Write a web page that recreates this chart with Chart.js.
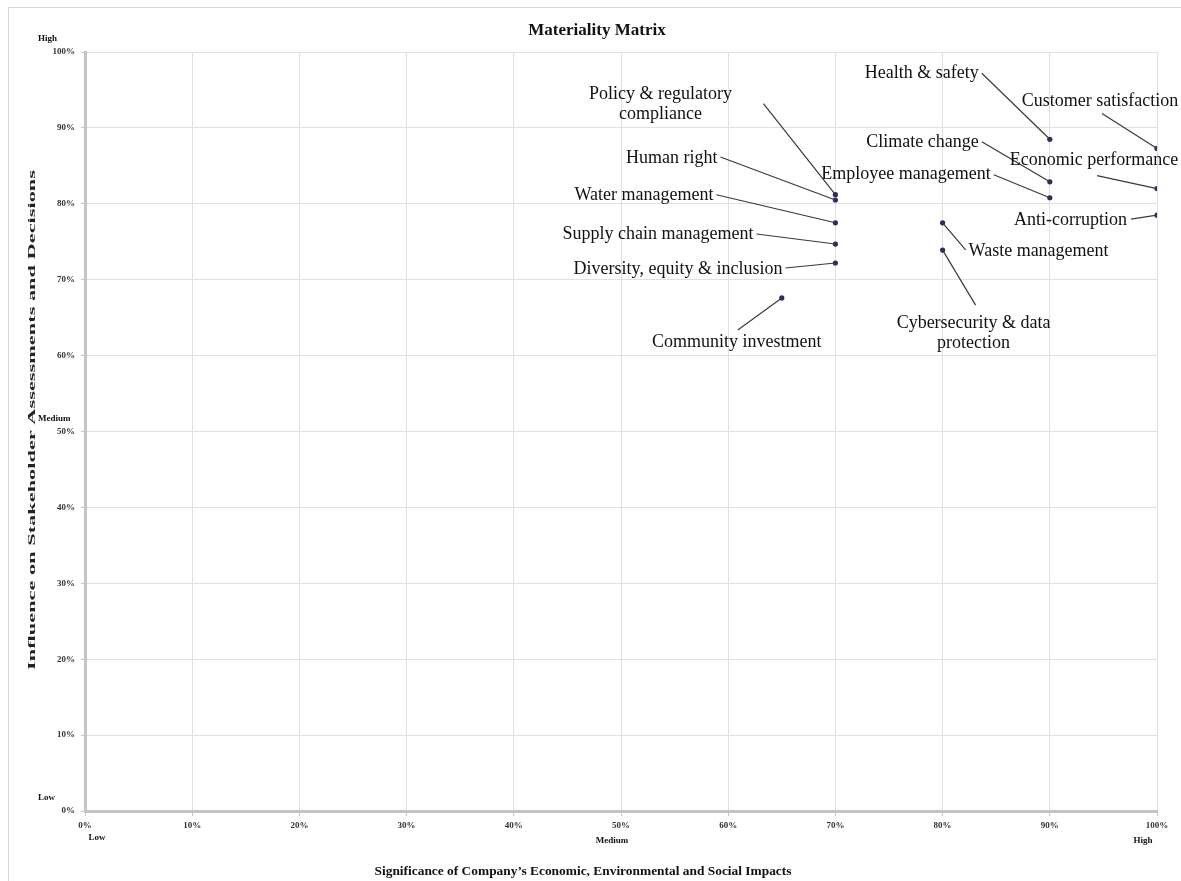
<!DOCTYPE html>
<html>
<head>
<meta charset="utf-8">
<title>Materiality Matrix</title>
<script src="https://cdn.jsdelivr.net/npm/chart.js@4.4.0/dist/chart.umd.min.js"></script>
<style>
    body { margin: 0; background: #ffffff; }
    #wrap { width: 1181px; height: 881px; position: relative; }
</style>
</head>
<body>
<div id="wrap"><canvas id="matrix" width="1181" height="881"></canvas></div>
<script>
// topics and their scores (percent)
const topics = [
    "Health & safety", "Customer satisfaction", "Climate change", "Employee management",
    "Economic performance", "Anti-corruption", "Waste management", "Cybersecurity & data protection",
    "Policy & regulatory compliance", "Human right", "Water management", "Supply chain management",
    "Diversity, equity & inclusion", "Community investment"
];
const significance = [90, 100, 90, 90, 100, 100, 80, 80, 70, 70, 70, 70, 70, 65];
const influence = [88.5, 87.3, 82.9, 80.8, 82.0, 78.5, 77.5, 73.9, 81.2, 80.5, 77.5, 74.7, 72.2, 67.6];

const tickValues = [0, 10, 20, 30, 40, 50, 60, 70, 80, 90, 100];
const levelNames = ["Low", "Medium", "High"];
const levelAt = [0, 50, 100];

// how each label sits next to its point: text offset, alignment, leader start offset (px)
const labelLines = [
    ["Health & safety"], ["Customer satisfaction"], ["Climate change"], ["Employee management"],
    ["Economic performance"], ["Anti-corruption"], ["Waste management"], ["Cybersecurity & data", "protection"],
    ["Policy & regulatory", "compliance"], ["Human right"], ["Water management"], ["Supply chain management"],
    ["Diversity, equity & inclusion"], ["Community investment"]
];
const labelSpots = [
    {tx: -71, ty: -66, align: "right", lx: -68, ly: -66},
    {tx: -57, ty: -47, align: "center", lx: -55, ly: -35},
    {tx: -71, ty: -40, align: "right", lx: -68, ly: -40},
    {tx: -59, ty: -23, align: "right", lx: -56, ly: -23},
    {tx: -63, ty: -28, align: "center", lx: -60, ly: -13},
    {tx: -30, ty: 5, align: "right", lx: -26, ly: 4},
    {tx: 26, ty: 28, align: "left", lx: 23, ly: 27},
    {tx: 31, ty: 73, align: "center", lx: 33, ly: 55},
    {tx: -175, ty: -100, align: "center", lx: -72, ly: -91},
    {tx: -118, ty: -42, align: "right", lx: -115, ly: -43},
    {tx: -122, ty: -28, align: "right", lx: -119, ly: -28},
    {tx: -82, ty: -10, align: "right", lx: -79, ly: -10},
    {tx: -53, ty: 6, align: "right", lx: -50, ly: 5},
    {tx: -45, ty: 44, align: "center", lx: -44, ly: 32}
];

const serif = "'Liberation Serif', 'DejaVu Serif', serif";

// draws text stretched along its own direction to a given length
function fitText(ctx, text, x, y, len, angle) {
    const w = ctx.measureText(text).width;
    ctx.save();
    ctx.translate(x, y);
    ctx.rotate(angle);
    ctx.scale(len / w, 1);
    ctx.fillText(text, 0, 0);
    ctx.restore();
}

const matrixText = {
    id: "matrixText",
    beforeDraw(chart) {
        const ctx = chart.ctx;
        ctx.save();
        ctx.strokeStyle = "#d9d9d9";
        ctx.lineWidth = 1;
        ctx.strokeRect(8.5, 7.5, 1200, 900);
        ctx.restore();
    },
    afterDraw(chart) {
        const ctx = chart.ctx;
        const xs = chart.scales.x;
        const ys = chart.scales.y;
        ctx.save();
        ctx.fillStyle = "#111";
        ctx.textBaseline = "middle";

        ctx.font = "bold 17px " + serif;
        ctx.textAlign = "center";
        ctx.fillText("Materiality Matrix", 597, 31);

        // Low / Medium / High on both axes
        ctx.font = "bold 9px " + serif;
        ctx.textAlign = "left";
        for (let i = 0; i < levelNames.length; i++) {
            ctx.fillText(levelNames[i], 38, ys.getPixelForValue(levelAt[i]) - 13);
        }
        ctx.textAlign = "center";
        ctx.fillText(levelNames[0], xs.getPixelForValue(levelAt[0]) + 12, 838);
        ctx.fillText(levelNames[1], xs.getPixelForValue(levelAt[1]) - 9, 841);
        ctx.fillText(levelNames[2], xs.getPixelForValue(levelAt[2]) - 14, 841);

        // axis titles
        ctx.font = "bold 12px " + serif;
        fitText(ctx, "Significance of Company\u2019s Economic, Environmental and Social Impacts", 583, 872, 417, 0);
        ctx.font = "bold 10px " + serif;
        ctx.fillStyle = "#222";
        fitText(ctx, "Influence on Stakeholder Assessments and Decisions", 32, 420, 500, -Math.PI / 2);
        ctx.fillStyle = "#111";

        // topic labels with leader lines
        const pts = chart.getDatasetMeta(0).data;
        ctx.font = "18px " + serif;
        ctx.strokeStyle = "#3a3a3a";
        ctx.lineWidth = 1.2;
        for (let i = 0; i < pts.length; i++) {
            const p = pts[i];
            const s = labelSpots[i];
            ctx.beginPath();
            ctx.moveTo(p.x + s.lx, p.y + s.ly);
            ctx.lineTo(p.x, p.y);
            ctx.stroke();
            ctx.textAlign = s.align;
            const lines = labelLines[i];
            for (let k = 0; k < lines.length; k++) {
                ctx.fillText(lines[k], p.x + s.tx, p.y + s.ty + k * 20);
            }
        }
        ctx.restore();
    }
};

document.addEventListener("DOMContentLoaded", () => {
    const canvas = document.getElementById("matrix");
    const points = topics.map((t, i) => ({x: significance[i], y: influence[i]}));
    new Chart(canvas, {
        type: "scatter",
        data: {
            datasets: [{
                label: "Topics",
                data: points,
                pointRadius: 2.6,
                pointBackgroundColor: "#2b2b66",
                pointBorderColor: "#2b2b66",
                pointBorderWidth: 0
            }]
        },
        options: {
            responsive: false,
            animation: false,
            layout: {padding: {top: 52, right: 24, left: 0, bottom: 0}},
            plugins: {legend: {display: false}, tooltip: {enabled: false}},
            scales: {
                x: {
                    type: "linear",
                    min: 0,
                    max: 100,
                    afterBuildTicks: (scale) => { scale.ticks = tickValues.map(v => ({value: v})); },
                    afterFit: (scale) => { scale.height = 70; },
                    ticks: {
                        callback: (v) => v + "%",
                        font: {family: serif, size: 9, weight: "bold"},
                        color: "#333",
                        padding: 4,
                        maxRotation: 0
                    },
                    grid: {color: "#e0e0e0", lineWidth: 1, tickLength: 5, tickColor: "#c8c8c8"},
                    border: {color: "#c4c4c4", width: 3}
                },
                y: {
                    type: "linear",
                    min: 0,
                    max: 100,
                    afterBuildTicks: (scale) => { scale.ticks = tickValues.map(v => ({value: v})); },
                    afterFit: (scale) => { scale.width = 85; },
                    ticks: {
                        callback: (v) => v + "%",
                        font: {family: serif, size: 9, weight: "bold"},
                        color: "#333",
                        padding: 6
                    },
                    grid: {color: "#e0e0e0", lineWidth: 1, tickLength: 4, tickColor: "#c8c8c8"},
                    border: {color: "#c4c4c4", width: 3}
                }
            }
        },
        plugins: [matrixText]
    });
});
</script>
</body>
</html>
